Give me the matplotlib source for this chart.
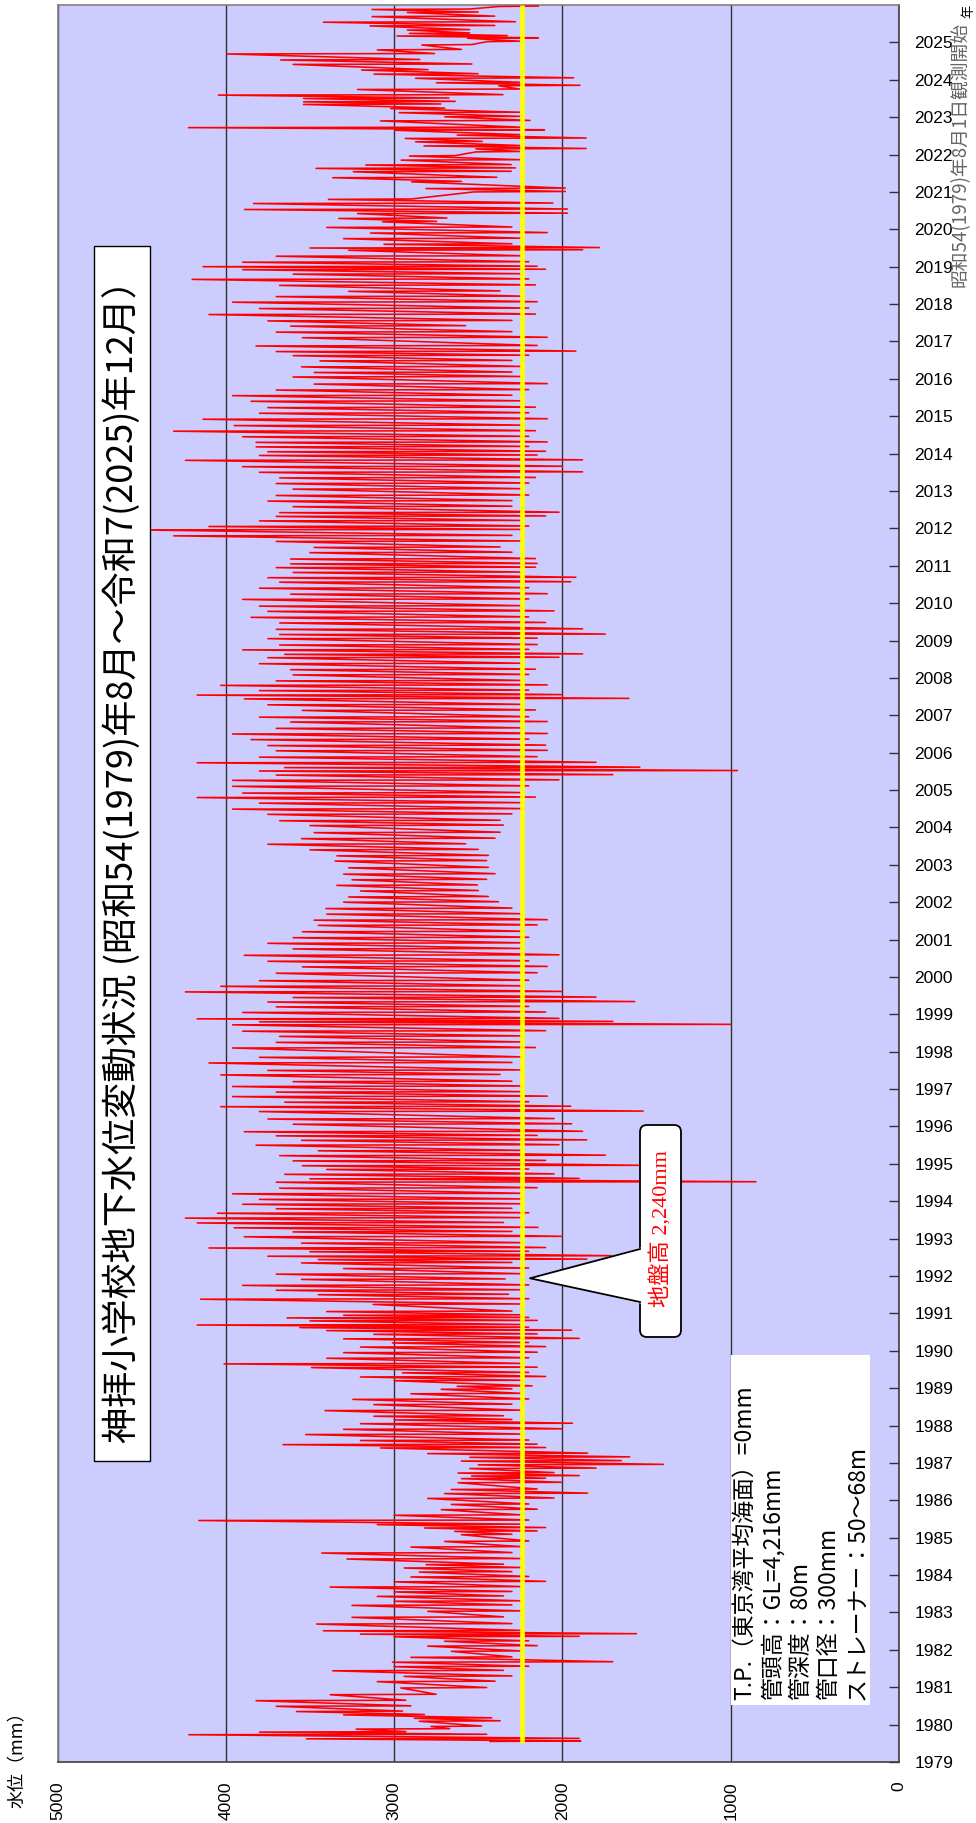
import numpy as np
import matplotlib.pyplot as plt
from matplotlib.patches import FancyBboxPatch, Polygon, Rectangle
from matplotlib.lines import Line2D
from matplotlib.transforms import IdentityTransform

plt.rcParams['font.family'] = ['Liberation Sans', 'Noto Sans CJK JP']

# readings: time (decimal year), highest and lowest level in that stretch (mm)
obs_year = [
    1979.55, 1979.62, 1979.73, 1979.80, 1979.88, 1979.95,
    1980.09, 1980.17, 1980.26, 1980.35, 1980.49, 1980.64, 1980.80, 1980.98,
    1981.15, 1981.29, 1981.44, 1981.55, 1981.67, 1981.80, 1981.96,
    1982.10, 1982.23, 1982.35, 1982.42, 1982.51, 1982.69, 1982.87,
    1983.03, 1983.19, 1983.30, 1983.43, 1983.55, 1983.68, 1983.82, 1983.95,
    1984.08, 1984.19, 1984.28, 1984.43, 1984.59, 1984.75, 1984.90,
    1985.08, 1985.17, 1985.26, 1985.35, 1985.46, 1985.60, 1985.75, 1985.89,
    1986.05, 1986.18, 1986.29, 1986.47, 1986.58, 1986.65, 1986.73, 1986.85, 1986.95,
    1987.05, 1987.15, 1987.25, 1987.40, 1987.49, 1987.60, 1987.76, 1987.90,
    1988.05, 1988.15, 1988.25, 1988.40, 1988.56, 1988.70, 1988.85, 1988.97,
    1989.05, 1989.20, 1989.30, 1989.41, 1989.55, 1989.65, 1989.80, 1989.95,
    1990.10, 1990.21, 1990.32, 1990.44, 1990.54, 1990.62, 1990.69, 1990.80, 1990.88, 1990.95,
    1991.05, 1991.24, 1991.38, 1991.50, 1991.62, 1991.75, 1991.91,
    1992.05, 1992.20, 1992.35, 1992.44, 1992.53, 1992.65, 1992.75, 1992.88,
    1993.05, 1993.18, 1993.29, 1993.42, 1993.55, 1993.68, 1993.80, 1993.92,
    1994.05, 1994.20, 1994.35, 1994.51, 1994.60, 1994.72, 1994.85, 1994.95,
    1995.08, 1995.22, 1995.35, 1995.50, 1995.63, 1995.75, 1995.86,
    1996.06, 1996.20, 1996.40, 1996.53, 1996.65, 1996.80, 1996.92,
    1997.07, 1997.20, 1997.38, 1997.50, 1997.70, 1997.85,
    1998.10, 1998.25, 1998.41, 1998.55, 1998.72, 1998.80, 1998.88,
    1999.05, 1999.20, 1999.33, 1999.45, 1999.60, 1999.75, 1999.90,
    2000.10, 2000.27, 2000.42, 2000.58, 2000.75, 2000.90,
    2001.05, 2001.21, 2001.38, 2001.52, 2001.68, 2001.83,
    2002.00, 2002.14, 2002.30, 2002.45, 2002.60, 2002.75, 2002.92,
    2003.10, 2003.24, 2003.40, 2003.55, 2003.70, 2003.86,
    2004.05, 2004.18, 2004.35, 2004.49, 2004.65, 2004.80, 2004.92,
    2005.10, 2005.26, 2005.40, 2005.51, 2005.60, 2005.73, 2005.88,
    2006.05, 2006.19, 2006.35, 2006.50, 2006.65, 2006.82, 2006.95,
    2007.13, 2007.28, 2007.44, 2007.54, 2007.66, 2007.80, 2007.92,
    2008.08, 2008.22, 2008.38, 2008.54, 2008.63, 2008.75, 2008.88,
    2009.05, 2009.16, 2009.30, 2009.47, 2009.62, 2009.78, 2009.92,
    2010.10, 2010.24, 2010.40, 2010.56, 2010.68, 2010.82, 2010.95,
    2011.05, 2011.18, 2011.35, 2011.49, 2011.65, 2011.80, 2011.96,
    2012.05, 2012.20, 2012.32, 2012.42, 2012.58, 2012.73, 2012.88,
    2013.05, 2013.20, 2013.35, 2013.50, 2013.65, 2013.82, 2013.95,
    2014.05, 2014.18, 2014.30, 2014.45, 2014.60, 2014.75, 2014.92,
    2015.08, 2015.23, 2015.40, 2015.55, 2015.70, 2015.86,
    2016.05, 2016.17, 2016.32, 2016.48, 2016.62, 2016.73, 2016.88,
    2017.10, 2017.25, 2017.41, 2017.55, 2017.72, 2017.88,
    2018.05, 2018.20, 2018.34, 2018.50, 2018.66, 2018.80, 2018.92,
    2019.00, 2019.12, 2019.28, 2019.44, 2019.50, 2019.60, 2019.75, 2019.90,
    2020.05, 2020.20, 2020.29, 2020.42, 2020.53, 2020.69, 2020.80,
    2021.00, 2021.09, 2021.27, 2021.38, 2021.54, 2021.63, 2021.72, 2021.85, 2021.96,
    2022.07, 2022.15, 2022.23, 2022.34, 2022.43, 2022.52, 2022.65, 2022.72, 2022.90,
    2023.01, 2023.12, 2023.23, 2023.34, 2023.41, 2023.50, 2023.59, 2023.74, 2023.84, 2023.92,
    2024.04, 2024.15, 2024.26, 2024.41, 2024.53, 2024.69, 2024.80, 2024.93,
    2025.02, 2025.11, 2025.17, 2025.24, 2025.33, 2025.44, 2025.54, 2025.69, 2025.80, 2025.88, 2025.96,
]
obs_high = [
    2430, 3520, 4220, 3800, 3225, 2780,
    2850, 2880, 3300, 3580, 3700, 3820, 3380, 2960,
    3100, 2940, 3365, 3000, 3010, 2900, 2660,
    2800, 2700, 3000, 3200, 3420, 3460, 3250,
    2800, 3250, 3000, 3100, 3000, 3380, 3000, 2900,
    2850, 2940, 2810, 3280, 3430, 2900, 2700,
    2600, 2640, 2820, 3100, 4160, 3000, 2720, 2660,
    2800, 2700, 2660, 2620, 2600, 2540, 2620, 2550, 2500,
    2600, 2550, 2800, 3080, 3660, 3200, 3525, 3300,
    3200, 3000, 3120, 3410, 3120, 3245, 2900, 2720,
    2625, 3000, 3200, 2950, 3490, 4010, 3400, 3300,
    3200, 3010, 3300, 3120, 3400, 3560, 4170, 3500, 3636, 3300,
    3400, 3125, 4150, 3450, 3700, 3900, 3550,
    3700, 3300, 3550, 3450, 3750, 3500, 4100, 3550,
    3890, 3600, 3950, 4170, 4240, 4050, 3700, 3900,
    3800, 3960, 3680, 3700, 3500, 3650, 3400, 3545,
    3600, 3680, 3450, 3820, 3550, 3700, 3890,
    3600, 3750, 3800, 4030, 3650, 3960, 3700,
    3960, 3600, 4030, 3750, 4100, 3800,
    3960, 3700, 3680, 3900, 3960, 3800, 4170,
    3900, 3700, 3750, 3600, 4240, 4030, 3800,
    3700, 3545, 3750, 3890, 3600, 3750,
    3600, 3545, 3450, 3475, 3400, 3405,
    3300, 3270, 3200, 3340, 3250, 3300, 3270,
    3350, 3340, 3500, 3750, 3550, 3475,
    3500, 3680, 3750, 3960, 3800, 4170, 3900,
    3960, 3960, 3700, 3800, 3650, 4170, 3800,
    3700, 3750, 3850, 3960, 3700, 3615, 3800,
    3545, 3750, 3890, 4170, 3800, 4030, 3700,
    3600, 3615, 3800, 3750, 3650, 3900, 3680,
    3750, 3680, 3700, 3680, 3850, 3750, 3800,
    3900, 3615, 3800, 3680, 3750, 3600, 3700,
    3615, 3615, 3500, 3475, 3700, 4310, 4530,
    4100, 3800, 3700, 3680, 3600, 3750, 3700,
    3600, 3700, 3680, 3800, 3900, 4240, 3800,
    3750, 3820, 3820, 3900, 4310, 3950, 4135,
    3800, 3750, 3850, 3960, 3700, 3475,
    3600, 3475, 3550, 3440, 3600, 3700, 3820,
    3545, 3700, 3615, 3750, 4100, 3800,
    3960, 3700, 3270, 3680, 4200, 3600, 3900,
    4135, 3900, 3700, 3270, 3500, 3060, 3300, 3140,
    3400, 3069, 3328, 3217, 3889, 3835, 3390,
    2526, 2810, 2896, 3365, 3242, 3464, 3168, 2958, 2909,
    2514, 2514, 2822, 2872, 2933, 2625, 2995, 4222, 3081,
    2699, 2970, 3020, 3538, 3538, 3538, 4044, 3217, 2378, 2748,
    2872, 3119, 3193, 3600, 3674, 3995, 3100, 2835,
    2447, 2563, 2983, 2909, 2921, 3143, 3420, 3131, 2921, 3131, 2378,
]
obs_low = [
    1890, 1900, 2450, 2930, 2670, 2480,
    2370, 2420, 2820, 2950, 2900, 2930, 2750, 2450,
    2400, 2300, 2350, 2200, 1700, 2300, 2250,
    2150, 2200, 1900, 1560, 2250, 2300, 2350,
    2250, 2300, 2250, 2350, 2300, 2250, 2100, 2200,
    2300, 2250, 2350, 2250, 2300, 2250, 2200,
    2300, 2150, 2100, 2250, 2200, 2250, 2150, 2200,
    2050, 1850, 2150, 2000, 2100, 1900, 2050, 1800, 1400,
    1650, 1600, 1850, 2100, 2150, 2200, 2250, 2000,
    1940, 2300, 2350, 2250, 2300, 2200, 2250, 2300,
    2180, 2250, 2100, 2200, 2150, 2250, 2200, 2150,
    2100, 2200, 1900, 2150, 1945, 2200, 2250, 2150, 2200, 2250,
    2300, 2250, 2200, 2320, 2250, 2200, 2340,
    2250, 2200, 2300, 1855, 1690, 2200, 2100, 2250,
    2000, 2300, 2145, 2350, 2250, 2200, 2300, 2250,
    2250, 2230, 2150, 850, 1900, 2050, 2200, 1540,
    2100, 1745, 2250, 2020, 1855, 2150, 1880,
    1945, 2050, 1520, 1950, 2200, 2090, 2250,
    2230, 2300, 2370, 2250, 2300, 2250,
    2160, 2250, 2230, 2100, 1000, 1700, 2020,
    2100, 2200, 1570, 1800, 2000, 2230, 2200,
    2150, 2090, 2200, 2020, 2250, 2230,
    2200, 2230, 2150, 2090, 2250, 2300,
    2380, 2440, 2500, 2505, 2450, 2400, 2440,
    2450, 2440, 2500, 2575, 2400, 2370,
    2350, 2370, 2300, 2230, 2250, 2160, 2250,
    2200, 2020, 1700, 960, 1540, 1800, 2150,
    2090, 2100, 2200, 2090, 2250, 2090, 2200,
    2160, 2250, 1605, 2000, 2200, 2090, 2250,
    2200, 2160, 2250, 2020, 1880, 2200, 2150,
    2150, 1745, 1880, 2100, 2200, 2050, 2250,
    2200, 2090, 2200, 1950, 1920, 2250, 2160,
    2150, 2160, 2300, 2370, 2250, 2300, 2250,
    2200, 2250, 2100, 2020, 2300, 2300, 2200,
    2250, 2200, 2160, 1880, 2000, 1880, 2150,
    2100, 2200, 2090, 2200, 2160, 2250, 2090,
    2200, 2160, 2250, 2300, 2200, 2090,
    2250, 2300, 2250, 2300, 2200, 1920, 2150,
    2090, 2300, 2575, 2300, 2160, 2200,
    2150, 2250, 2370, 2160, 2200, 2250, 2100,
    2150, 2200, 2250, 1880, 1780, 2300, 2250, 2090,
    2300, 2748, 2686, 1970, 1970, 2057, 2896,
    1983, 1983, 2600, 2390, 2304, 2279, 2304, 2254, 2637,
    2254, 1859, 2254, 2477, 1859, 2254, 2106, 2254, 2193,
    2254, 2254, 2699, 2723, 2637, 2674, 2353, 2254, 1896, 2254,
    1933, 2501, 2798, 2538, 2847, 2760, 2600, 2538,
    2254, 2143, 2328, 2551, 2551, 2402, 2279, 2402, 2501, 2551, 2143,
]

ground_level = 2240
level_ticks = [0, 1000, 2000, 3000, 4000, 5000]
year_ticks = list(range(1979, 2026))
year_min, year_max = 1979, 2026

title = '神拝小学校地下水位変動状況 (昭和54(1979)年8月～令和7(2025)年12月）'
well_info = ['T.P.（東京湾平均海面）=0mm', '管頭高：GL=4,216mm', '管深度：80m',
             '管口径：300mm', 'ストレーナー：50～68m']
start_note = '昭和54(1979)年8月1日観測開始'

W, H = 976, 1823
fig = plt.figure(figsize=(W / 100, H / 100), dpi=100)


def fx(x):
    return x / W


def fy(y):  # y counted from the top edge
    return 1 - y / H


ax = fig.add_axes([fx(57.5), fy(1762), (899 - 57.5) / W, (1762 - 5) / H])
ax.set_facecolor('#CCCCFF')

# each reading: swing out to the high value and back to the low value
t_line = np.repeat(np.array(obs_year, dtype=float), 2)
t_line[1::2] += 0.012
lvl_line = np.column_stack([obs_high, obs_low]).ravel()
ax.plot(lvl_line, t_line, color='#FF0000', lw=1.15, zorder=3)

# ground level line
ax.plot([ground_level, ground_level], [obs_year[0] - 0.05, year_max],
        color='#FFFF00', lw=3.3, zorder=4, solid_capstyle='butt')

ax.set_xlim(5000, 0)
ax.set_ylim(year_min, year_max)
ax.set_xticks(level_ticks)
ax.set_xticklabels([str(v) for v in level_ticks], rotation=90)
ax.grid(axis='x', color='#303030', lw=1)
ax.set_axisbelow(True)

ax.yaxis.tick_right()
ax.set_yticks(year_ticks)
ax.set_yticklabels([str(y) for y in year_ticks])
ax.tick_params(axis='y', direction='in', length=7, width=1, color='#333333',
               labelsize=12.5, pad=11)
ax.tick_params(axis='x', length=0, labelsize=12.5, pad=14)

for side in ['left', 'top']:
    ax.spines[side].set_color('#808080')
for side in ['right', 'bottom']:
    ax.spines[side].set_color('#404040')
for sp in ax.spines.values():
    sp.set_linewidth(1.2)

# title box
fig.add_artist(Rectangle((94, H - 1461), 56, 1215, transform=IdentityTransform(),
                         fc='white', ec='black', lw=1, zorder=5))
fig.text(fx(122), fy(853), title, rotation=90, ha='center', va='center',
         fontsize=26, family=['Noto Sans CJK JP'], zorder=6)

# well info box
fig.add_artist(Rectangle((731, H - 1705), 139, 350, transform=IdentityTransform(),
                         fc='white', ec='none', zorder=5))
for i, line in enumerate(well_info):
    fig.text(fx(745 + 28 * i), fy(1700), line, rotation=90, rotation_mode='anchor',
             ha='left', va='center', fontsize=16.5, family=['Noto Sans CJK JP'], zorder=6)

# callout pointing at the ground level line
tip_x, tip_y = ax.transData.transform((ground_level, 1991.94))
tip_x += 8
fig.add_artist(FancyBboxPatch((640, H - 1337), 41, 212,
                              boxstyle='round,pad=0,rounding_size=7',
                              transform=IdentityTransform(),
                              fc='white', ec='black', lw=1.3, zorder=5))
fig.add_artist(Polygon([(643, H - 1247), (tip_x, tip_y), (643, H - 1304)],
                       closed=True, transform=IdentityTransform(),
                       fc='white', ec='none', zorder=6))
fig.add_artist(Line2D([640, tip_x, 640], [H - 1249, tip_y, H - 1302],
                      transform=IdentityTransform(), color='black', lw=1.3, zorder=7))
fig.text(fx(661), fy(1229), f'地盤高 {ground_level:,}mm', rotation=90,
         ha='center', va='center', color='#FF0000', fontsize=16,
         family=['Liberation Serif', 'Noto Sans CJK JP'], zorder=8)

# axis captions
fig.text(fx(18), fy(1808), '水位（mm）', rotation=90, ha='center', va='bottom',
         fontsize=13, family=['Noto Sans CJK JP'])
fig.text(fx(969), fy(11), '年', rotation=90, ha='center', va='center',
         fontsize=9.5, family=['Noto Sans CJK JP'])
fig.text(fx(960), fy(22), start_note, rotation=90, ha='center', va='top',
         fontsize=13.5, color='#666666', family=['Noto Sans CJK JP'])

fig.savefig('out.png', dpi=100, facecolor='white')
